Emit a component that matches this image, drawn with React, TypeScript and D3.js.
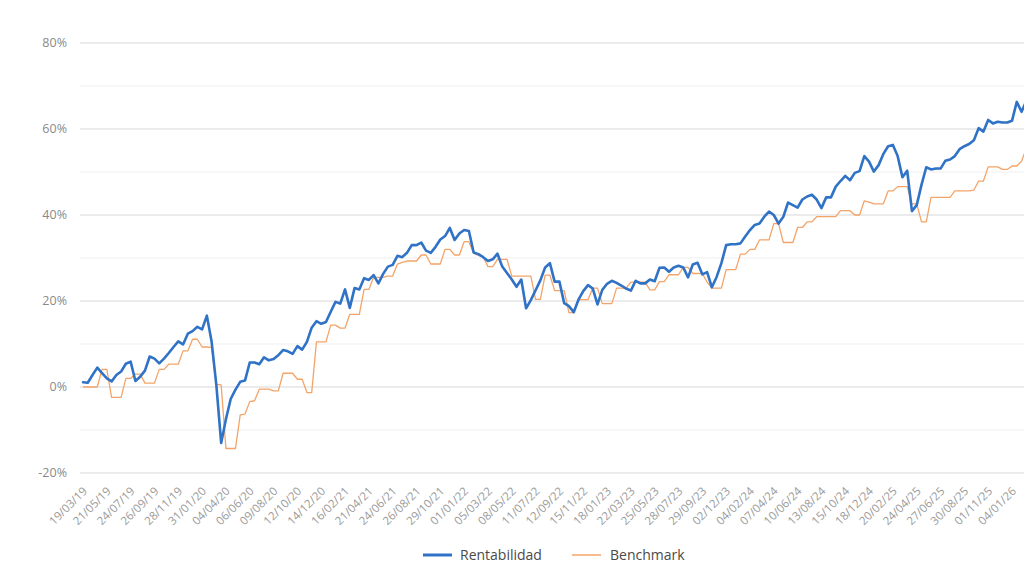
import * as d3 from 'd3';
import React from 'react';

// one label every 5 points
const tickLabels = [
  '19/03/19', '21/05/19', '24/07/19', '26/09/19', '28/11/19', '31/01/20', '04/04/20', '06/06/20',
  '09/08/20', '12/10/20', '14/12/20', '16/02/21', '21/04/21', '24/06/21', '26/08/21', '29/10/21',
  '01/01/22', '05/03/22', '08/05/22', '11/07/22', '12/09/22', '15/11/22', '18/01/23', '22/03/23',
  '25/05/23', '28/07/23', '29/09/23', '02/12/23', '04/02/24', '07/04/24', '10/06/24', '13/08/24',
  '15/10/24', '18/12/24', '20/02/25', '24/04/25', '27/06/25', '30/08/25', '01/11/25', '04/01/26',
];
const labelStep = 5;

const rentabilidad = [
  1.1, 1.0, 2.8, 4.5, 3.2, 2.0, 1.3, 2.8, 3.6, 5.4,
  5.9, 1.4, 2.4, 3.8, 7.1, 6.6, 5.5, 6.6, 7.9, 9.3,
  10.6, 9.9, 12.4, 13.0, 14.0, 13.4, 16.6, 10.5, 0.3, -13.0,
  -7.5, -2.8, -0.6, 1.2, 1.5, 5.7, 5.7, 5.3, 6.9, 6.2,
  6.5, 7.4, 8.6, 8.3, 7.7, 9.5, 8.7, 10.5, 13.8, 15.3,
  14.7, 15.1, 17.5, 19.8, 19.4, 22.7, 18.4, 23.0, 22.7, 25.3,
  24.9, 26.0, 24.1, 26.3, 28.0, 28.4, 30.5, 30.2, 31.2, 33.0,
  33.0, 33.6, 31.7, 31.2, 32.6, 34.3, 35.1, 37.0, 34.2, 35.7,
  36.5, 36.3, 31.3, 30.9, 30.2, 29.3, 29.7, 31.0, 28.0, 26.5,
  25.0, 23.3, 25.0, 18.3, 20.2, 22.5, 24.8, 27.8, 28.8, 24.5,
  24.5, 19.5, 18.8, 17.4, 20.3, 22.3, 23.7, 22.9, 19.2, 22.6,
  24.0, 24.7, 24.2, 23.6, 22.9, 22.4, 24.7, 24.1, 24.1, 25.0,
  24.6, 27.7, 27.8, 26.8, 27.8, 28.2, 27.8, 25.5, 28.5, 28.9,
  26.2, 26.7, 23.2, 25.6, 28.8, 33.0, 33.2, 33.2, 33.4, 35.0,
  36.5, 37.7, 38.0, 39.6, 40.8, 40.0, 38.0, 39.6, 42.9, 42.3,
  41.7, 43.6, 44.3, 44.7, 43.6, 41.6, 44.1, 44.1, 46.6, 47.9,
  49.1, 48.1, 49.8, 50.2, 53.7, 52.4, 50.1, 51.6, 54.2, 56.0,
  56.3, 53.7, 48.8, 50.3, 40.9, 42.3, 47.0, 51.1, 50.6, 50.8,
  50.8, 52.6, 52.9, 53.7, 55.3, 56.0, 56.5, 57.4, 60.2, 59.4,
  62.1, 61.3, 61.7, 61.5, 61.5, 61.9, 66.3, 64.0, 66.5,
];

const benchmark = [
  0, 0, 0, 0, 4.1, 4.1, -2.4, -2.4, -2.4, 2.0,
  2.0, 3.0, 3.0, 0.9, 0.9, 0.9, 4.1, 4.1, 5.3, 5.3,
  5.3, 8.4, 8.4, 11.1, 11.1, 9.3, 9.3, 9.2, 0.6, 0.5,
  -14.3, -14.3, -14.3, -6.5, -6.3, -3.4, -3.2, -0.5, -0.5, -0.5,
  -0.9, -0.9, 3.2, 3.2, 3.2, 1.8, 1.8, -1.3, -1.3, 10.5,
  10.5, 10.5, 14.4, 14.4, 13.7, 13.7, 16.9, 16.9, 16.9, 22.7,
  22.7, 25.5, 25.5, 25.5, 25.8, 25.8, 28.6, 29.0, 29.3, 29.3,
  29.3, 30.7, 30.7, 28.6, 28.6, 28.6, 32.0, 32.0, 30.7, 30.7,
  33.8, 33.8, 31.1, 30.6, 30.3, 28.0, 28.0, 29.7, 29.7, 29.7,
  25.8, 25.8, 25.8, 25.8, 25.8, 20.4, 20.4, 26.0, 26.0, 22.4,
  22.4, 22.4, 17.3, 17.3, 20.3, 20.3, 20.3, 23.0, 23.0, 19.4,
  19.4, 19.4, 23.0, 23.0, 23.0, 24.4, 24.4, 24.4, 24.4, 22.6,
  22.6, 24.5, 24.5, 26.1, 26.1, 26.1, 27.8, 27.8, 26.4, 26.4,
  26.4, 24.4, 23.0, 23.0, 23.0, 27.3, 27.3, 27.3, 30.9, 30.9,
  32.0, 32.0, 34.2, 34.2, 34.2, 38.0, 38.0, 33.6, 33.6, 33.6,
  37.1, 37.1, 38.4, 38.4, 39.6, 39.6, 39.6, 39.6, 39.6, 41.0,
  41.0, 41.0, 40.0, 40.0, 43.3, 43.0, 42.6, 42.6, 42.6, 45.6,
  45.6, 46.6, 46.6, 46.6, 42.6, 42.6, 38.4, 38.4, 44.1, 44.1,
  44.1, 44.1, 44.1, 45.6, 45.6, 45.6, 45.6, 45.8, 47.9, 47.9,
  51.2, 51.2, 51.2, 50.6, 50.6, 51.4, 51.4, 52.5, 55.5,
];

const yTicks = [-20, 0, 20, 40, 60, 80];
const yGrid = [-20, -10, 0, 10, 20, 30, 40, 50, 60, 70, 80];

const FONT = '"Open Sans", sans-serif';

export default function App() {
  const width = 1024;
  const height = 571;

  const x = d3.scaleLinear().domain([0, (tickLabels.length - 1) * labelStep]).range([83, 1012]);
  const y = d3.scaleLinear().domain([-20, 80]).range([473, 43]);

  const line = d3
    .line<number>()
    .x((d, i) => x(i))
    .y((d) => y(d));

  return (
    <svg
      width={width}
      height={height}
      style={{ position: 'absolute', left: 0, top: 0, background: '#fff' }}
      fontFamily={FONT}
    >
      {yGrid.map((v) => {
        const major = v % 20 === 0;
        return (
          <line
            key={v}
            x1={80}
            x2={width}
            y1={y(v)}
            y2={y(v)}
            stroke={major ? '#e4e4e4' : '#efefef'}
            strokeWidth={major ? 1.5 : 1}
          />
        );
      })}
      {yTicks.map((v) => (
        <text
          key={v}
          x={67}
          y={y(v)}
          dy="0.35em"
          textAnchor="end"
          fontSize={12.5}
          fill="#8a8a8a"
        >
          {v}%
        </text>
      ))}
      {tickLabels.map((label, k) => (
        <text
          key={label}
          transform={`translate(${x(k * labelStep) + 2},${489}) rotate(-45)`}
          textAnchor="end"
          dy="0.35em"
          fontSize={11.5}
          fill="#9a9a9a"
        >
          {label}
        </text>
      ))}
      <path
        d={line(benchmark) || ''}
        fill="none"
        stroke="#f4a468"
        strokeWidth={1.3}
        strokeLinejoin="round"
      />
      <path
        d={line(rentabilidad) || ''}
        fill="none"
        stroke="#2f72c6"
        strokeWidth={2.6}
        strokeLinejoin="round"
        strokeLinecap="round"
      />
      <g>
        <line x1={423} x2={452} y1={555} y2={555} stroke="#2f72c6" strokeWidth={3} />
        <text x={460} y={555} dy="0.35em" fontSize={14} fill="#4a4a4a">
          Rentabilidad
        </text>
        <line x1={572} x2={601} y1={555} y2={555} stroke="#f4a468" strokeWidth={1.5} />
        <text x={610} y={555} dy="0.35em" fontSize={14} fill="#4a4a4a">
          Benchmark
        </text>
      </g>
    </svg>
  );
}
